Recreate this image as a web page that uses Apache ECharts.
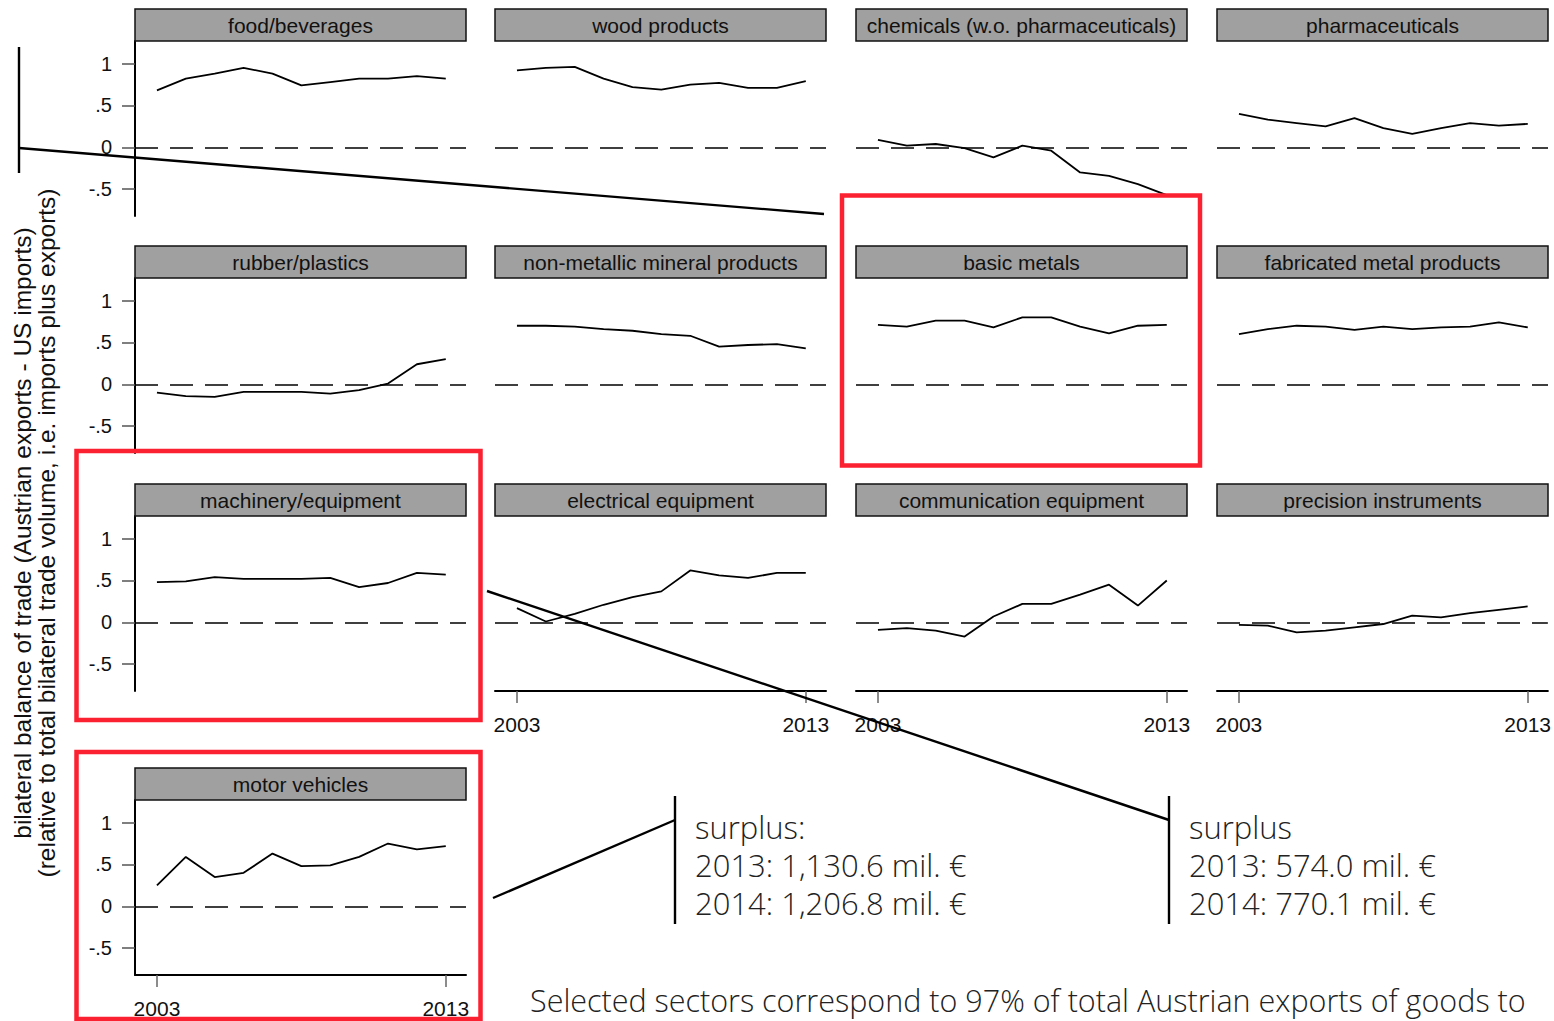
<!DOCTYPE html>
<html>
<head>
<meta charset="utf-8">
<script src="https://cdn.jsdelivr.net/npm/echarts@6/dist/echarts.min.js"></script>
<style>
html,body{margin:0;padding:0;background:#fff}
#chart{width:1554px;height:1021px}
</style>
</head>
<body>
<div id="chart"></div>
<script>
// data, 2003..2013
var years = [2003,2004,2005,2006,2007,2008,2009,2010,2011,2012,2013]
var sectors = ['food/beverages','wood products','chemicals (w.o. pharmaceuticals)','pharmaceuticals',
  'rubber/plastics','non-metallic mineral products','basic metals','fabricated metal products',
  'machinery/equipment','electrical equipment','communication equipment','precision instruments',
  'motor vehicles']
var foodBeverages = [0.68,0.82,0.88,0.95,0.88,0.74,0.78,0.82,0.82,0.85,0.82]
var woodProducts  = [0.92,0.95,0.96,0.82,0.72,0.69,0.75,0.77,0.71,0.71,0.79]
var chemicals     = [0.09,0.02,0.04,-0.01,-0.12,0.02,-0.04,-0.30,-0.34,-0.44,-0.57]
var pharma        = [0.40,0.33,0.29,0.25,0.35,0.23,0.16,0.23,0.29,0.26,0.28]
var rubberPlastic = [-0.10,-0.14,-0.15,-0.09,-0.09,-0.09,-0.11,-0.07,0.01,0.24,0.30]
var nonMetallic   = [0.70,0.70,0.69,0.66,0.64,0.60,0.58,0.45,0.47,0.48,0.43]
var basicMetals   = [0.71,0.69,0.76,0.76,0.68,0.80,0.80,0.69,0.61,0.70,0.71]
var fabricated    = [0.60,0.66,0.70,0.69,0.65,0.69,0.66,0.68,0.69,0.74,0.68]
var machinery     = [0.48,0.49,0.54,0.52,0.52,0.52,0.53,0.42,0.47,0.59,0.57]
var electrical    = [0.17,0.01,0.10,0.21,0.30,0.37,0.62,0.56,0.53,0.59,0.59]
var communication = [-0.09,-0.07,-0.10,-0.17,0.07,0.22,0.22,0.33,0.45,0.20,0.50]
var precision     = [-0.03,-0.04,-0.12,-0.10,-0.06,-0.02,0.08,0.06,0.11,0.15,0.19]
var motorVehicles = [0.25,0.59,0.35,0.40,0.63,0.48,0.49,0.59,0.75,0.68,0.72]
var sectorValues = [foodBeverages,woodProducts,chemicals,pharma,rubberPlastic,nonMetallic,
  basicMetals,fabricated,machinery,electrical,communication,precision,motorVehicles]
var yTicks = [-0.5,0,0.5,1]
var xTicks = [2003,2013]
var yTitle = ['bilateral balance of trade (Austrian exports - US imports)',
  '(relative to total bilateral trade volume, i.e. imports plus exports)']
var noteLeft = ['surplus:','2013: 1,130.6 mil. \u20ac','2014: 1,206.8 mil. \u20ac']
var noteRight = ['surplus','2013: 574.0 mil. \u20ac','2014: 770.1 mil. \u20ac']
var footNote = 'Selected sectors correspond to 97% of total Austrian exports of goods to'

var chart = echarts.init(document.getElementById('chart'), null, {renderer:'svg'})

var colLeft = [135,495,856,1217]
var rowTop = [41,278,516,800]
var W = 331, H = 175, HEAD = 32
var FONT = '"Liberation Sans", Arial, sans-serif'
var NOTEFONT = '"Open Sans", sans-serif'
var RED = '#fb2130'

function hasXAxis(i){ return i==9||i==10||i==11||i==12 }

var grids=[], xAxes=[], yAxes=[], series=[], graphics=[]
for (var i in sectors) {
  i = +i
  var r = Math.floor(i/4), c = i%4
  grids.push({left:colLeft[c], top:rowTop[r], width:W, height:H, containLabel:false})
  var showX = hasXAxis(i)
  xAxes.push({
    type:'value', gridIndex:i, min:2002.24, max:2013.7,
    axisLine:{show:showX, onZero:false, lineStyle:{color:'#000', width:2}},
    axisTick:{show:showX, length:12, customValues:xTicks, lineStyle:{color:'#666', width:1.5}},
    axisLabel:{show:showX, customValues:xTicks, margin:23, fontSize:21, color:'#111', fontFamily:FONT,
      formatter:function(v){ return String(v) }},
    splitLine:{show:false}
  })
  var showY = c==0
  yAxes.push({
    type:'value', gridIndex:i, min:-0.82, max:1.27,
    axisLine:{show:showY, lineStyle:{color:'#000', width:2}},
    axisTick:{show:showY, length:13, customValues:yTicks, lineStyle:{color:'#555', width:1.5}},
    axisLabel:{show:showY, customValues:yTicks, margin:23, fontSize:20, color:'#111', fontFamily:FONT,
      formatter:function(v){ return v==0 ? '0' : String(v).replace('0.','.') }},
    splitLine:{show:false}
  })
  var pts = years.map(function(y,k){ return [y, sectorValues[i][k]] })
  series.push({
    type:'line', xAxisIndex:i, yAxisIndex:i, data:pts, symbol:'none', animation:false,
    lineStyle:{color:'#000', width:1.8},
    markLine:{silent:true, symbol:['none','none'], label:{show:false}, animation:false,
      lineStyle:{color:'#000', width:1.6, type:[23,12]}, data:[{yAxis:0}]}
  })
  // gray header strip
  graphics.push({type:'rect', z:10, shape:{x:colLeft[c], y:rowTop[r]-HEAD, width:W, height:HEAD},
    style:{fill:'#a0a0a0', stroke:'#111', lineWidth:1.5}})
  graphics.push({type:'text', z:11, x:colLeft[c]+W/2, y:rowTop[r]-HEAD/2,
    style:{text:sectors[i], fill:'#111', fontSize:21, fontFamily:FONT, align:'center', verticalAlign:'middle'}})
}

// y axis title
graphics.push({type:'text', x:22, y:533, rotation:Math.PI/2,
  style:{text:yTitle[0], fill:'#111', fontSize:24.5, fontFamily:FONT, align:'center', verticalAlign:'middle'}})
graphics.push({type:'text', x:46, y:533, rotation:Math.PI/2,
  style:{text:yTitle[1], fill:'#111', fontSize:24.5, fontFamily:FONT, align:'center', verticalAlign:'middle'}})

// red highlight boxes
var boxes = [[842,195.5,358,270],[76.5,451,404,269],[76.5,752,404,267]]
boxes.forEach(function(b){
  graphics.push({type:'rect', z:50, shape:{x:b[0], y:b[1], width:b[2], height:b[3]},
    style:{fill:'none', stroke:RED, lineWidth:4.5}})
})

// connector lines
var lines = [[19,47,19,173],[19,148,824,214],[487,591,1169,820],[493,898,675,820],[675,796,675,924],[1169,796,1169,924]]
lines.forEach(function(l){
  graphics.push({type:'line', z:60, shape:{x1:l[0], y1:l[1], x2:l[2], y2:l[3]},
    style:{stroke:'#000', lineWidth:2.4}})
})

noteLeft.forEach(function(t,k){
  graphics.push({type:'text', z:60, x:695, y:827+38*k,
    style:{text:t, fill:'#222', fontSize:31, fontWeight:300, fontFamily:NOTEFONT, align:'left', verticalAlign:'middle'}})
})
noteRight.forEach(function(t,k){
  graphics.push({type:'text', z:60, x:1189, y:827+38*k,
    style:{text:t, fill:'#222', fontSize:31, fontWeight:300, fontFamily:NOTEFONT, align:'left', verticalAlign:'middle'}})
})
graphics.push({type:'text', z:60, x:530, y:1000,
  style:{text:footNote, fill:'#222', fontSize:30.5, fontWeight:300, fontFamily:NOTEFONT, align:'left', verticalAlign:'middle'}})

chart.setOption({
  animation:false,
  grid:grids, xAxis:xAxes, yAxis:yAxes, series:series,
  graphic:{elements:graphics}
})
</script>
</body>
</html>
